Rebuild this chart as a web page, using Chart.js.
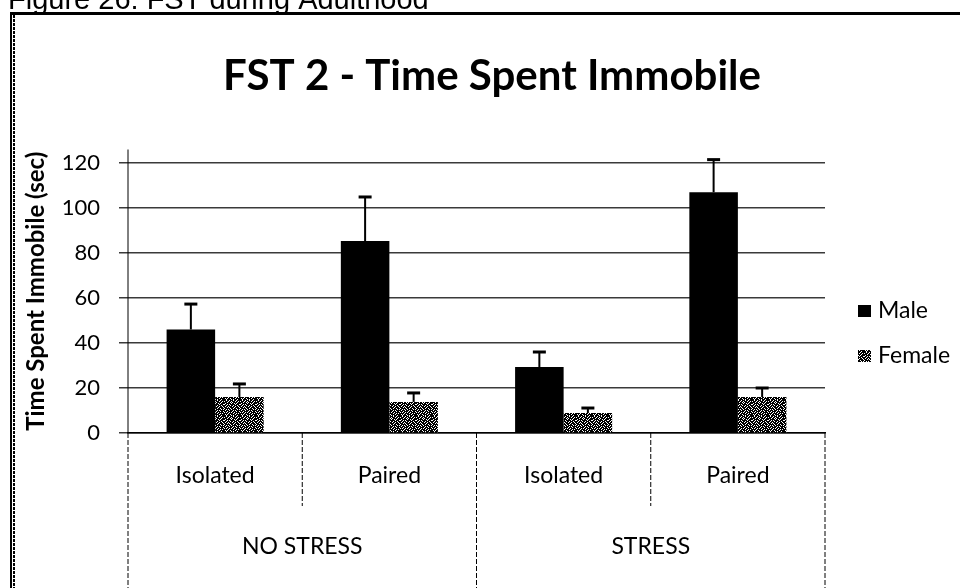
<!DOCTYPE html>
<html>
<head>
<meta charset="utf-8">
<script src="https://cdn.jsdelivr.net/npm/chart.js@4.4.0/dist/chart.umd.min.js"></script>
<style>
    html, body { margin: 0; padding: 0; background: #fff; }
    #wrap { width: 960px; height: 588px; }
</style>
</head>
<body>
<div id="wrap"><canvas id="fstChart"></canvas></div>
<script>
// data
const subLabels = ['Isolated', 'Paired', 'Isolated', 'Paired'];
const groupLabels = ['NO STRESS', 'STRESS'];
const maleValues = [46, 85.3, 29.3, 107];
const maleErrors = [11.3, 19.6, 6.7, 14.5];
const femaleValues = [16, 13.8, 8.9, 16];
const femaleErrors = [5.8, 4, 2.2, 4];
const yTicks = [0, 20, 40, 60, 80, 100, 120];

const FONT = 'Lato, "Open Sans", sans-serif';

document.addEventListener('DOMContentLoaded', () => {
    const ctx = document.getElementById('fstChart').getContext('2d');

    // speckled fill used for the Female bars
    function speckle() {
        const rows = [
            '1101101110110111',
            '0111011011101101',
            '1110110101111011',
            '1011111011010111',
            '0110101111101110',
            '1101110110111011',
            '1011011101101101',
            '1110101111011110',
            '0111110110110111',
            '1101011011111010',
            '1011101110101111',
            '1110111101110110',
            '0101101011011111',
            '1111011110110101',
            '1010110111101111',
            '1101111010111011'
        ];
        const c = document.createElement('canvas');
        c.width = 16; c.height = 16;
        const g = c.getContext('2d');
        g.fillStyle = '#fff';
        g.fillRect(0, 0, 16, 16);
        g.fillStyle = '#000';
        rows.forEach((r, y) => [...r].forEach((b, x) => { if (b === '1') g.fillRect(x, y, 1, 1); }));
        return ctx.createPattern(c, 'repeat');
    }
    const femaleFill = speckle();

    // upward error bars
    const errorBars = {
        id: 'errorBars',
        afterDatasetsDraw(chart) {
            const { ctx, scales: { y } } = chart;
            const errs = [maleErrors, femaleErrors];
            ctx.save();
            ctx.strokeStyle = '#000';
            chart.data.datasets.forEach((ds, i) => {
                chart.getDatasetMeta(i).data.forEach((bar, j) => {
                    const top = y.getPixelForValue(ds.data[j] + errs[i][j]);
                    ctx.lineWidth = 2;
                    ctx.beginPath();
                    ctx.moveTo(bar.x, bar.y);
                    ctx.lineTo(bar.x, top);
                    ctx.stroke();
                    ctx.lineWidth = 3;
                    ctx.beginPath();
                    ctx.moveTo(bar.x - 6.5, top);
                    ctx.lineTo(bar.x + 6.5, top);
                    ctx.stroke();
                });
            });
            ctx.restore();
        }
    };

    // caption, frame, title, two-level category axis and legend
    const decor = {
        id: 'decor',
        afterDraw(chart) {
            const { ctx, chartArea: a, scales: { x } } = chart;
            ctx.save();
            ctx.fillStyle = '#000';

            ctx.font = '29px "Liberation Sans", Arial, sans-serif';
            ctx.textAlign = 'left';
            ctx.textBaseline = 'alphabetic';
            ctx.fillText('Figure 26: FST during Adulthood', 8, 9);

            ctx.fillRect(10, 12, 950, 3);
            ctx.fillRect(10, 12, 2, 576);
            ctx.strokeStyle = '#000';
            ctx.lineWidth = 2;
            ctx.setLineDash([3, 1]);
            ctx.beginPath();
            ctx.moveTo(14, 15); ctx.lineTo(14, 588);
            ctx.stroke();

            ctx.font = 'bold 42px ' + FONT;
            ctx.textAlign = 'center';
            ctx.fillText('FST 2 - Time Spent Immobile', 492, 90);

            // category labels
            const cx = subLabels.map((_, i) => x.getPixelForValue(i));
            const half = (cx[1] - cx[0]) / 2;
            ctx.font = '23px ' + FONT;
            ctx.textBaseline = 'middle';
            subLabels.forEach((t, i) => ctx.fillText(t, cx[i], 476));
            groupLabels.forEach((t, k) => ctx.fillText(t, (cx[2 * k] + cx[2 * k + 1]) / 2, 547));

            ctx.lineWidth = 1;
            ctx.setLineDash([5, 2]);
            ctx.beginPath();
            groupLabels.forEach((_, k) => {
                const sx = cx[2 * k] + half;
                ctx.moveTo(sx, a.bottom); ctx.lineTo(sx, 506);
            });
            [a.left, cx[1] + half, a.right].forEach(gx => {
                ctx.moveTo(gx, a.bottom); ctx.lineTo(gx, 588);
            });
            ctx.stroke();
            ctx.setLineDash([]);

            // y axis line, drawn over the top of the plot like the original
            ctx.beginPath();
            ctx.moveTo(a.left, a.top);
            ctx.lineTo(a.left, a.bottom);
            ctx.stroke();

            // legend
            ctx.textAlign = 'left';
            ctx.font = '23px ' + FONT;
            [311, 356].forEach((ly, i) => {
                const ds = chart.data.datasets[i];
                ctx.fillStyle = ds.backgroundColor;
                ctx.fillRect(858, ly - 6, 13, 12);
                ctx.fillStyle = '#000';
                ctx.fillText(ds.label, 878, ly);
            });
            ctx.restore();
        }
    };

    new Chart(ctx, {
        type: 'bar',
        data: {
            labels: subLabels,
            datasets: [
                {
                    label: 'Male',
                    data: maleValues,
                    backgroundColor: '#000',
                    borderWidth: 0
                },
                {
                    label: 'Female',
                    data: femaleValues,
                    backgroundColor: femaleFill,
                    borderWidth: 0
                }
            ]
        },
        options: {
            responsive: true,
            maintainAspectRatio: false,
            animation: false,
            layout: { padding: { top: 149.5, right: 135, bottom: 0, left: 0 } },
            datasets: { bar: { categoryPercentage: 0.557, barPercentage: 1 } },
            plugins: {
                legend: { display: false },
                tooltip: { enabled: false }
            },
            scales: {
                x: {
                    ticks: { display: false },
                    grid: { display: false },
                    border: { color: '#000', width: 1.5 },
                    afterFit(s) { s.height = 155; }
                },
                y: {
                    min: 0,
                    max: 126,
                    afterBuildTicks(s) { s.ticks = yTicks.map(v => ({ value: v })); },
                    afterFit(s) { s.width = 128; },
                    ticks: { color: '#000', font: { family: FONT, size: 22 }, padding: 19 },
                    grid: { color: '#3a3a3a', lineWidth: 1.5, tickLength: 9 },
                    border: { display: false },
                    title: {
                        display: true,
                        text: 'Time Spent Immobile (sec)',
                        color: '#000',
                        font: { family: FONT, size: 24, weight: 'bold' },
                        padding: { top: 22 }
                    }
                }
            }
        },
        plugins: [errorBars, decor]
    });
});
</script>
</body>
</html>
